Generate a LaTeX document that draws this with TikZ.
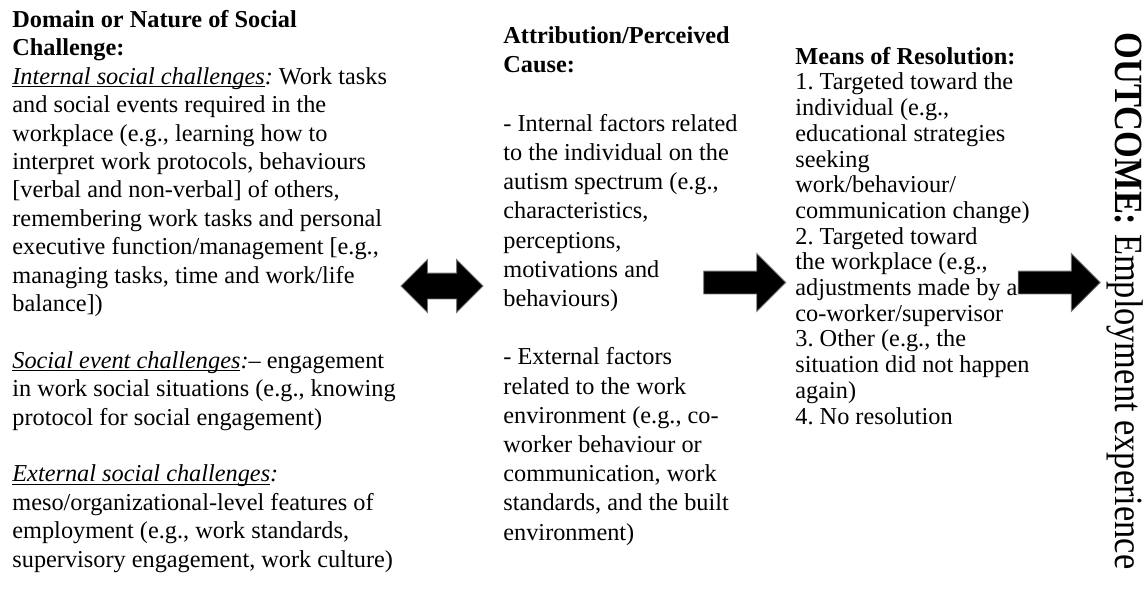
\documentclass[tikz,border=0pt]{standalone}
\usepackage{fontspec}
\setmainfont{Liberation Serif}
\usepackage{graphicx}
\usetikzlibrary{shapes.arrows, positioning}
\frenchspacing

\newcommand{\undl}[1]{\setbox0\hbox{#1}\rlap{\rule[-1.5pt]{\wd0}{0.5pt}}\box0}

\begin{document}
\begin{tikzpicture}[x=0.5pt, y=-0.5pt,
    coltext/.style={anchor=base west, inner sep=0pt, align=left,
        font=\fontsize{12.15}{14.2}\selectfont},
    widecol/.style={coltext, font=\fontsize{12.15}{14.6}\selectfont},
    tightcol/.style={coltext, font=\fontsize{12.15}{12.85}\selectfont},
    fwdarrow/.style={single arrow, fill=black, draw=black!55, line width=0.4pt,
        inner xsep=0pt, inner ysep=5.5pt, minimum height=41pt,
        single arrow head extend=8.75pt},
    bothway/.style={double arrow, fill=black, draw=black!55, line width=0.4pt,
        inner xsep=0pt, inner ysep=6.25pt, minimum height=41pt,
        double arrow head extend=6.75pt}]
    \useasboundingbox (0,0) rectangle (1144,596);

    % Column 1: domain of the challenge (placed by its last line)
    \node[coltext] (domain) at (12,567) {%
        \textbf{Domain or Nature of Social}\\
        \textbf{Challenge:}\\
        \undl{\textit{Internal social challenges}}\textit{:} Work tasks\\
        and social events required in the\\
        workplace (e.g., learning how to\\
        interpret work protocols, behaviours\\
        {[}verbal and non-verbal] of others,\\
        remembering work tasks and personal\\
        executive function/management [e.g.,\\
        managing tasks, time and work/life\\
        balance])\\
        ~\\
        \undl{\textit{Social event challenges}}\textit{:}-- engagement\\
        in work social situations (e.g., knowing\\
        protocol for social engagement)\\
        ~\\
        \undl{\textit{External social challenges}}\textit{:}\\
        meso/organizational-level features of\\
        employment (e.g., work standards,\\
        supervisory engagement, work culture)};

    % Column 2: perceived cause
    \node[widecol] (cause) at (503,540) {%
        \textbf{Attribution/Perceived}\\
        \textbf{Cause:}\\
        ~\\
        - Internal factors related\\
        to the individual on the\\
        autism spectrum (e.g.,\\
        characteristics,\\
        perceptions,\\
        motivations and\\
        behaviours)\\
        ~\\
        - External factors\\
        related to the work\\
        environment (e.g., co-\\
        worker behaviour or\\
        communication, work\\
        standards, and the built\\
        environment)};

    % Column 3: how it was resolved
    \node[tightcol] (resolve) at (795,424) {%
        \textbf{Means of Resolution:}\\
        1. Targeted toward the\\
        individual (e.g.,\\
        educational strategies\\
        seeking\\
        work/behaviour/\\
        communication change)\\
        2. Targeted toward\\
        the workplace (e.g.,\\
        adjustments made by a\\
        co-worker/supervisor\\
        3. Other (e.g., the\\
        situation did not happen\\
        again)\\
        4. No resolution};

    % Outcome, set sideways
    \node[rotate=-90, anchor=base west, inner sep=0pt,
        font=\fontsize{20}{24}\selectfont] (outcome) at (1115,32)
        {\scalebox{0.86}[1]{\textbf{OUTCOME:} Employment experience}};

    % Block arrows between the columns
    \node[bothway] (linkAB) at (442,286) {};
    \node[fwdarrow] (linkBC) at (739,282.5) {};
    \node[fwdarrow] (linkCD) at (1053.5,282.5) {};
\end{tikzpicture}
\end{document}
